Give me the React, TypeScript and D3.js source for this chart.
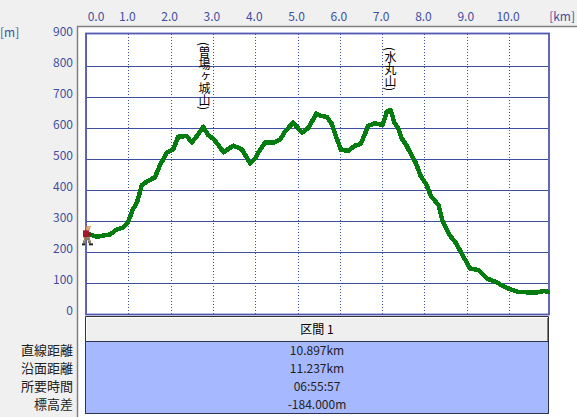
import React from "react";
import * as d3 from "d3";

const kmTicks = [0, 1, 2, 3, 4, 5, 6, 7, 8, 9, 10];
const elevTicks = [0, 100, 200, 300, 400, 500, 600, 700, 800, 900];
const km = [0.09,0.25,0.41,0.57,0.73,0.88,1.0,1.10,1.21,1.32,1.47,1.63,1.75,1.91,2.06,2.18,2.38,2.50,2.62,2.77,2.89,3.03,3.25,3.48,3.68,3.88,4.0,4.11,4.23,4.43,4.59,4.70,4.90,4.98,5.11,5.27,5.44,5.53,5.69,5.81,5.91,6.03,6.20,6.36,6.49,6.60,6.67,6.83,7.01,7.11,7.20,7.29,7.38,7.46,7.57,7.70,7.80,7.90,8.05,8.15,8.33,8.43,8.59,8.75,8.92,9.08,9.27,9.47,9.71,9.95,10.22,10.65,10.81,10.91];
const elev = [257,249,253,257,273,279,298,335,362,416,430,441,481,520,531,572,574,553,574,604,577,563,522,543,532,486,502,529,553,553,563,588,618,604,585,602,647,640,636,613,572,529,527,543,548,583,607,615,610,653,658,617,599,567,545,510,486,448,416,381,352,298,255,228,185,147,142,115,102,83,71,69,74,72];
const peaks = [{ km: 2.8, label: "(曽場ヶ城山)", top: 42 }, { km: 7.2, label: "(水丸山)", top: 47 }];
const rowLabels = ["直線距離", "沿面距離", "所要時間", "標高差"];
const rowValues = ["10.897km", "11.237km", "06:55:57", "-184.000m"];
const sectionTitle = "区間 1";

const W = 577, H = 417;
const L = 86, R = 548, T = 34, B = 314;
const FONT = "'Noto Sans CJK JP', sans-serif";
const LABEL = "#3f4f9f", GRID = "#3f4f9f", FRAME = "#5258b0";

const x = d3.scaleLinear().domain([0, 10.92]).range([L, R]);
const y = d3.scaleLinear().domain([0, 900]).range([B, 35]);
const pts = km.map((k, i) => [k, elev[i]] as [number, number]);
const line = d3.line<[number, number]>().x(d => x(d[0])).y(d => y(d[1]));

// small pixel-art hiker, placed relative to the start of the profile
const hiker: [number, number, number, number, string][] = [
  [3, 0, 6, 1, "#c87a3c"], [4, 1, 4, 3, "#e0a070"], [1, 4, 6, 7, "#a8162c"], [6, 7, 4, 2, "#7a2020"],
  [2, 11, 6, 3, "#8a7a60"], [1, 14, 3, 3, "#8a7a60"], [6, 14, 3, 3, "#8a7a60"], [0, 17, 3, 2, "#222222"], [7, 17, 4, 2, "#222222"],
];

export default function App() {
  const hx = x(0) - 4, hy = y(elev[0]) - 8;
  return (
    <svg width={W} height={H} viewBox={`0 0 ${W} ${H}`} style={{ position: "fixed", left: 0, top: 0, background: "#f0f0f0", display: "block" }} fontFamily={FONT}>
      <rect x={78} y={27} width={W - 78} height={H - 27} fill="#fff" />
      <path d={`M77.5 ${H}V26.5H${W}`} fill="none" stroke="#808080" strokeWidth={1.5} />

      {kmTicks.map(k => (
        <g key={k}>
          {k > 0 && <line x1={Math.round(x(k)) + 0.5} x2={Math.round(x(k)) + 0.5} y1={T} y2={B} stroke={GRID} strokeDasharray="1 2" />}
          <text x={k === 0 ? 96 : x(k) - 1} y={21} textAnchor="middle" fontSize={12} fill={LABEL}>{k.toFixed(1)}</text>
        </g>
      ))}
      <text x={575} y={21} textAnchor="end" fontSize={12} fill={LABEL}>[km]</text>
      <text x={0} y={37} fontSize={12} fill={LABEL}>[m]</text>
      {elevTicks.map(e => (
        <g key={e}>
          {e > 0 && e < 900 && <line x1={L} x2={R} y1={Math.round(y(e)) + 0.5} y2={Math.round(y(e)) + 0.5} stroke={GRID} />}
          <text x={73} y={y(e) + 1} textAnchor="end" fontSize={12} fill={LABEL}>{e}</text>
        </g>
      ))}
      <path d={`M${L}.5 ${T}V${B}`} stroke={FRAME} strokeDasharray="1 1" fill="none" />
      <rect x={L} y={T - 0.5} width={R - L + 1} height={B - T + 1} fill="none" stroke={FRAME} strokeWidth={1.8} />

      {peaks.map(p => (
        <text key={p.label} x={x(p.km)} y={p.top} fontSize={12} fill="#000" style={{ writingMode: "vertical-rl", textOrientation: "mixed" }}>{p.label}</text>
      ))}

      <path d={line(pts) ?? ""} fill="none" stroke="#047c10" strokeWidth={4.5} strokeLinejoin="round" strokeLinecap="square" shapeRendering="crispEdges" />

      <g transform={`translate(${hx},${hy})`}>
        {hiker.map((r, i) => <rect key={i} x={r[0]} y={r[1]} width={r[2]} height={r[3]} fill={r[4]} />)}
      </g>

      <rect x={86} y={317.5} width={462} height={24} fill="#efefef" />
      <path d="M86.5 341V317.5H547.5" fill="none" stroke="#ffffff" />
      <path d="M85.5 341V316.5H548.5V341" fill="none" stroke="#333" />
      <path d="M547.5 318V341" fill="none" stroke="#808080" />
      <text x={317} y={334} textAnchor="middle" fontSize={12} fill="#000">{sectionTitle}</text>
      <rect x={85.5} y={341.5} width={463} height={72} fill="#a6b8ff" stroke="#2b3350" />
      {rowLabels.map((s, i) => (
        <g key={s}>
          <text x={73} y={355 + i * 18} textAnchor="end" fontSize={13} fill="#222">{s}</text>
          <text x={317} y={354.5 + i * 18} textAnchor="middle" fontSize={12} fill="#222">{rowValues[i]}</text>
        </g>
      ))}
    </svg>
  );
}
